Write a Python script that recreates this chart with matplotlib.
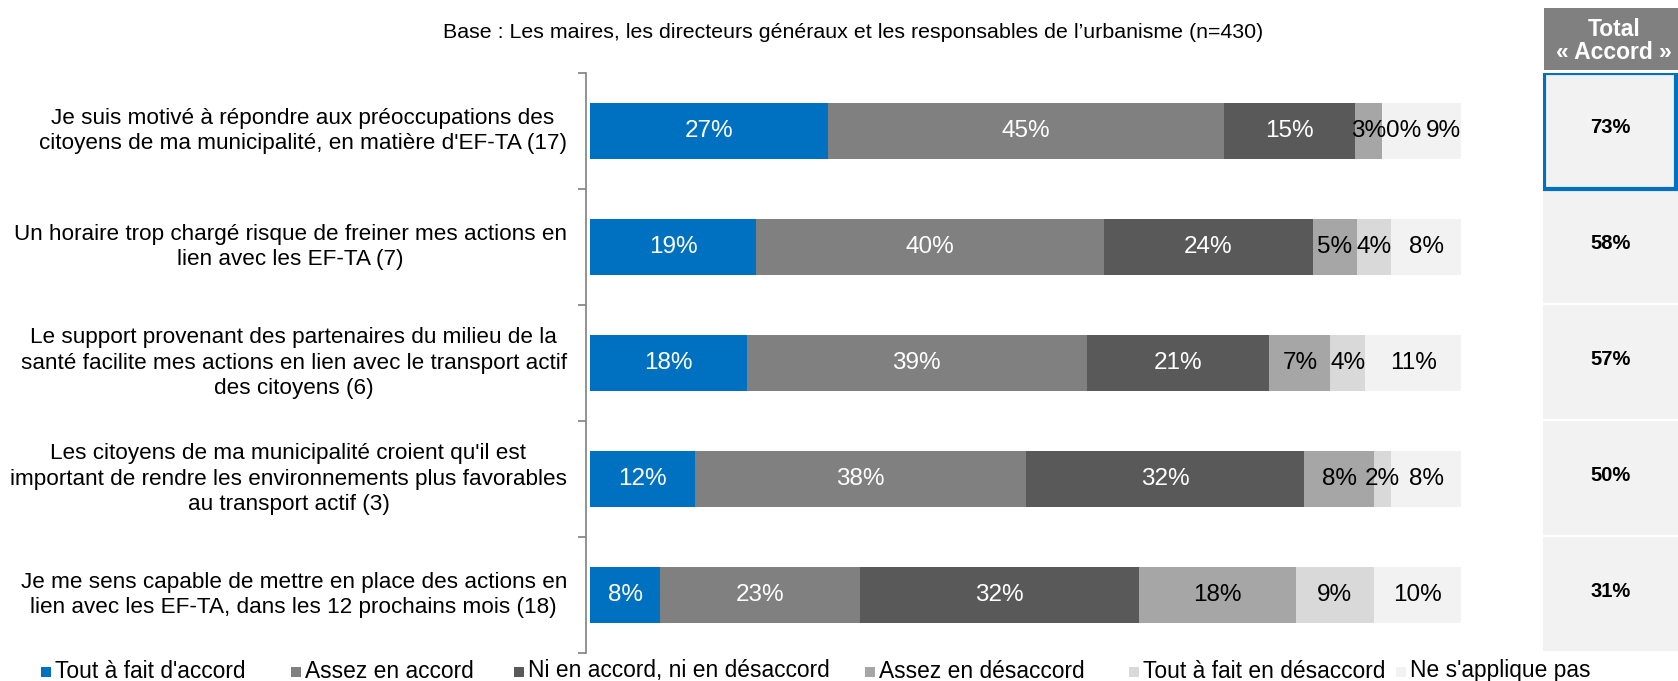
import numpy as np
import matplotlib.pyplot as plt
from matplotlib.patches import Rectangle
from matplotlib.transforms import blended_transform_factory

plt.rcParams['font.family'] = ['Liberation Sans', 'DejaVu Sans']

categories = [
    "Je suis motivé à répondre aux préoccupations des\ncitoyens de ma municipalité, en matière d'EF-TA (17)",
    "Un horaire trop chargé risque de freiner mes actions en\nlien avec les EF-TA (7)",
    "Le support provenant des partenaires du milieu de la\nsanté facilite mes actions en lien avec le transport actif\ndes citoyens (6)",
    "Les citoyens de ma municipalité croient qu'il est\nimportant de rendre les environnements plus favorables\nau transport actif (3)",
    "Je me sens capable de mettre en place des actions en\nlien avec les EF-TA, dans les 12 prochains mois (18)",
]
series_names = ["Tout à fait d'accord", "Assez en accord", "Ni en accord, ni en désaccord",
                "Assez en désaccord", "Tout à fait en désaccord", "Ne s'applique pas"]
tout_accord = [27, 19, 18, 12, 8]
assez_accord = [45, 40, 39, 38, 23]
ni_ni = [15, 24, 21, 32, 32]
assez_desaccord = [3, 5, 7, 8, 18]
tout_desaccord = [0, 4, 4, 2, 9]
ne_sapplique = [9, 8, 11, 8, 10]
total_accord = ["73%", "58%", "57%", "50%", "31%"]

colors = ["#0070C0", "#808080", "#595959", "#A6A6A6", "#D9D9D9", "#F2F2F2"]
text_colors = ["white", "white", "white", "black", "black", "black"]

W, H = 1678, 681
fig = plt.figure(figsize=(W / 100, H / 100), dpi=100)

ax = fig.add_axes([586 / W, 1 - 653 / H, (1461 - 586) / W, 580 / H])
data = np.array([tout_accord, assez_accord, ni_ni, assez_desaccord, tout_desaccord, ne_sapplique], dtype=float)
shares = data / data.sum(axis=0) * 100
y = np.arange(len(categories))
left = np.zeros(len(categories))
row_labels = [[] for _ in categories]
for k in range(len(series_names)):
    ax.barh(y, shares[k], left=left, height=0.48, color=colors[k])
    for i in range(len(categories)):
        t = ax.text(left[i] + shares[k][i] / 2, y[i], f"{int(data[k][i])}%", ha="center", va="center",
                    fontsize=17.5, color=text_colors[k])
        row_labels[i].append(t)
    left += shares[k]

ax.set_xlim(-0.5, 100)
ax.set_ylim(4.5, -0.5)
ax.set_xticks([])
ax.set_yticks(np.arange(-0.5, 5, 1))
ax.set_yticklabels([])
ax.tick_params(axis="y", length=6, color="#808080", width=1.2)
for s in ["top", "right", "bottom"]:
    ax.spines[s].set_visible(False)
ax.spines["left"].set_color("#808080")
ax.spines["left"].set_linewidth(1.2)

# push crowded labels (small segments) to the right so they sit side by side
fig.canvas.draw()
rend = fig.canvas.get_renderer()
px_per_unit = ax.transData.transform((1, 0))[0] - ax.transData.transform((0, 0))[0]
for labels in row_labels:
    prev_right = None
    for t in labels:
        bb = t.get_window_extent(rend)
        if prev_right is not None and bb.x0 < prev_right:
            shift = prev_right - bb.x0 + (4 if bb.width > 0 and t.get_text() != labels[-2].get_text() else 0)
            x0, y0 = t.get_position()
            t.set_position((x0 + shift / px_per_unit, y0))
            bb = t.get_window_extent(rend)
        prev_right = bb.x1

lab_tr = blended_transform_factory(fig.transFigure, ax.transData)
for i, lab in enumerate(categories):
    ax.text(567 / W, y[i], lab, transform=lab_tr, ha="right", va="center", multialignment="center",
            fontsize=16.2, linespacing=1.3)

# right panel
ax2 = fig.add_axes([1543 / W, 1 - 653 / H, (W - 1543) / W, 580 / H])
ax2.set_xlim(0, 1)
ax2.set_ylim(4.5, -0.5)
ax2.axis("off")
for i, v in enumerate(total_accord):
    ax2.add_patch(Rectangle((0, i - 0.5), 1, 0.98, facecolor="#F2F2F2", edgecolor="none"))
    ax2.text(0.5, i - 0.03, v, ha="center", va="center", fontsize=14.5, fontweight="bold")
ax2.add_patch(Rectangle((0.01, -0.5), 0.975, 1.0, facecolor="none", edgecolor="#0070C0", linewidth=3))

fig.patches.append(Rectangle((1544 / W, 1 - 70 / H), (W - 1544) / W, 62 / H, transform=fig.transFigure,
                             facecolor="#808080", edgecolor="none"))
fig.text(1614 / W, 1 - 41 / H, "Total\n« Accord »", ha="center", va="center", fontsize=16.5,
         fontweight="bold", color="white", linespacing=1.05)

fig.text(853 / W, 1 - 32 / H, "Base : Les maires, les directeurs généraux et les responsables de l’urbanisme (n=430)",
         ha="center", va="center", fontsize=15.4)

# legend
leg_x = [41, 291, 514, 865, 1129, 1396]
for k, name in enumerate(series_names):
    fig.patches.append(Rectangle((leg_x[k] / W, 1 - 677 / H), 10 / W, 10 / H, transform=fig.transFigure,
                                 facecolor=colors[k], edgecolor="none"))
    fig.text((leg_x[k] + 14) / W, 1 - 671 / H, name, ha="left", va="center", fontsize=16.4)

fig.savefig("out.png", dpi=100)
